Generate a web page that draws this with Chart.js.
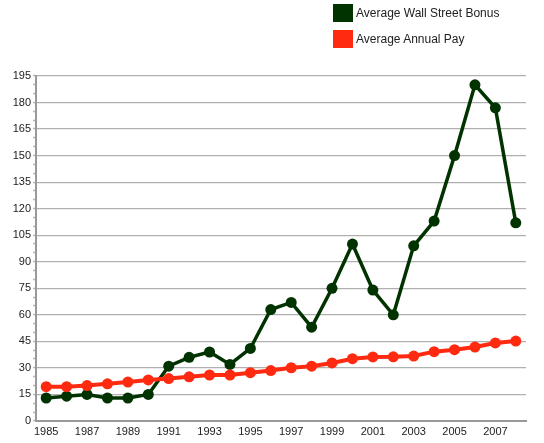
<!DOCTYPE html>
<html>
<head>
<meta charset="utf-8">
<script src="https://cdn.jsdelivr.net/npm/chart.js@4/dist/chart.umd.min.js"></script>
<style>
html,body{margin:0;padding:0;background:#fff;}
#wrap{position:relative;width:544px;height:443px;}
#c{position:absolute;left:0;top:0;}
.leg{position:absolute;left:333px;height:18px;font:12px "Liberation Sans",Arial,sans-serif;color:#222;line-height:18px;white-space:nowrap;}
.leg span.sw{position:absolute;left:0;top:0;width:20px;height:18px;}
.leg span.tx{position:absolute;left:23px;top:0;}
</style>
</head>
<body>
<div id="wrap">
<canvas id="c" width="544" height="443"></canvas>
<div class="leg" style="top:4px"><span class="sw" style="background:#003300"></span><span class="tx">Average Wall Street Bonus</span></div>
<div class="leg" style="top:30px"><span class="sw" style="background:#ff2a10"></span><span class="tx">Average Annual Pay</span></div>
</div>
<script>
const years = ["1985","1986","1987","1988","1989","1990","1991","1992","1993","1994","1995","1996","1997","1998","1999","2000","2001","2002","2003","2004","2005","2006","2007","2008"];
const bonus = [13, 14, 15, 13, 13, 15, 31, 36, 39, 32, 41, 63, 67, 53, 75, 100, 74, 60, 99, 113, 150, 190, 177, 112];
const annualPay = [19.4, 19.4, 20, 21, 22, 23.2, 24, 25, 26, 26, 27.3, 28.5, 30.1, 31, 32.8, 35.2, 36.2, 36.3, 36.7, 39.2, 40.3, 41.8, 44.1, 45.2];
const yMax = 195;
const majorStep = 15;
const minorStep = 5;

new Chart(document.getElementById('c'), {
  type: 'line',
  data: {
    labels: years,
    datasets: [
      {label: 'Average Annual Pay', data: annualPay, borderColor: '#ff2a10', backgroundColor: '#ff2a10', borderWidth: 4, pointRadius: 5.5, pointBackgroundColor: '#ff2a10', pointBorderWidth: 0, tension: 0},
      {label: 'Average Wall Street Bonus', data: bonus, borderColor: '#003300', backgroundColor: '#003300', borderWidth: 3.5, pointRadius: 5.5, pointBackgroundColor: '#003300', pointBorderWidth: 0, tension: 0}
    ]
  },
  options: {
    responsive: false,
    animation: false,
    events: [],
    layout: {padding: {top: 76, right: 18, left: 0, bottom: 0}},
    plugins: {legend: {display: false}, tooltip: {enabled: false}},
    scales: {
      x: {
        offset: true,
        grid: {display: false, drawTicks: false},
        border: {display: true, color: '#999', width: 2},
        ticks: {
          autoSkip: false, maxRotation: 0, padding: 4,
          color: '#222', font: {family: '"Liberation Sans", Arial, sans-serif', size: 11},
          callback: function(v, i){ return i % 2 === 0 ? years[i] : ''; }
        },
        afterFit: function(s){ s.height = 22; }
      },
      y: {
        min: 0, max: yMax,
        grid: {
          color: function(ctx){ return (ctx.tick && ctx.tick.value % majorStep === 0 && ctx.tick.value !== 0) ? '#b0b0b0' : 'rgba(0,0,0,0)'; },
          tickColor: '#b8b8b8',
          tickLength: 3,
          lineWidth: 1.2,
          tickWidth: 1.5
        },
        border: {display: true, color: '#999', width: 2},
        ticks: {
          stepSize: minorStep, autoSkip: false, padding: 2,
          color: '#222', font: {family: '"Liberation Sans", Arial, sans-serif', size: 11},
          callback: function(v){ return v % majorStep === 0 ? String(v) : ''; }
        },
        afterFit: function(s){ s.width = 36; }
      }
    }
  }
});
</script>
</body>
</html>
